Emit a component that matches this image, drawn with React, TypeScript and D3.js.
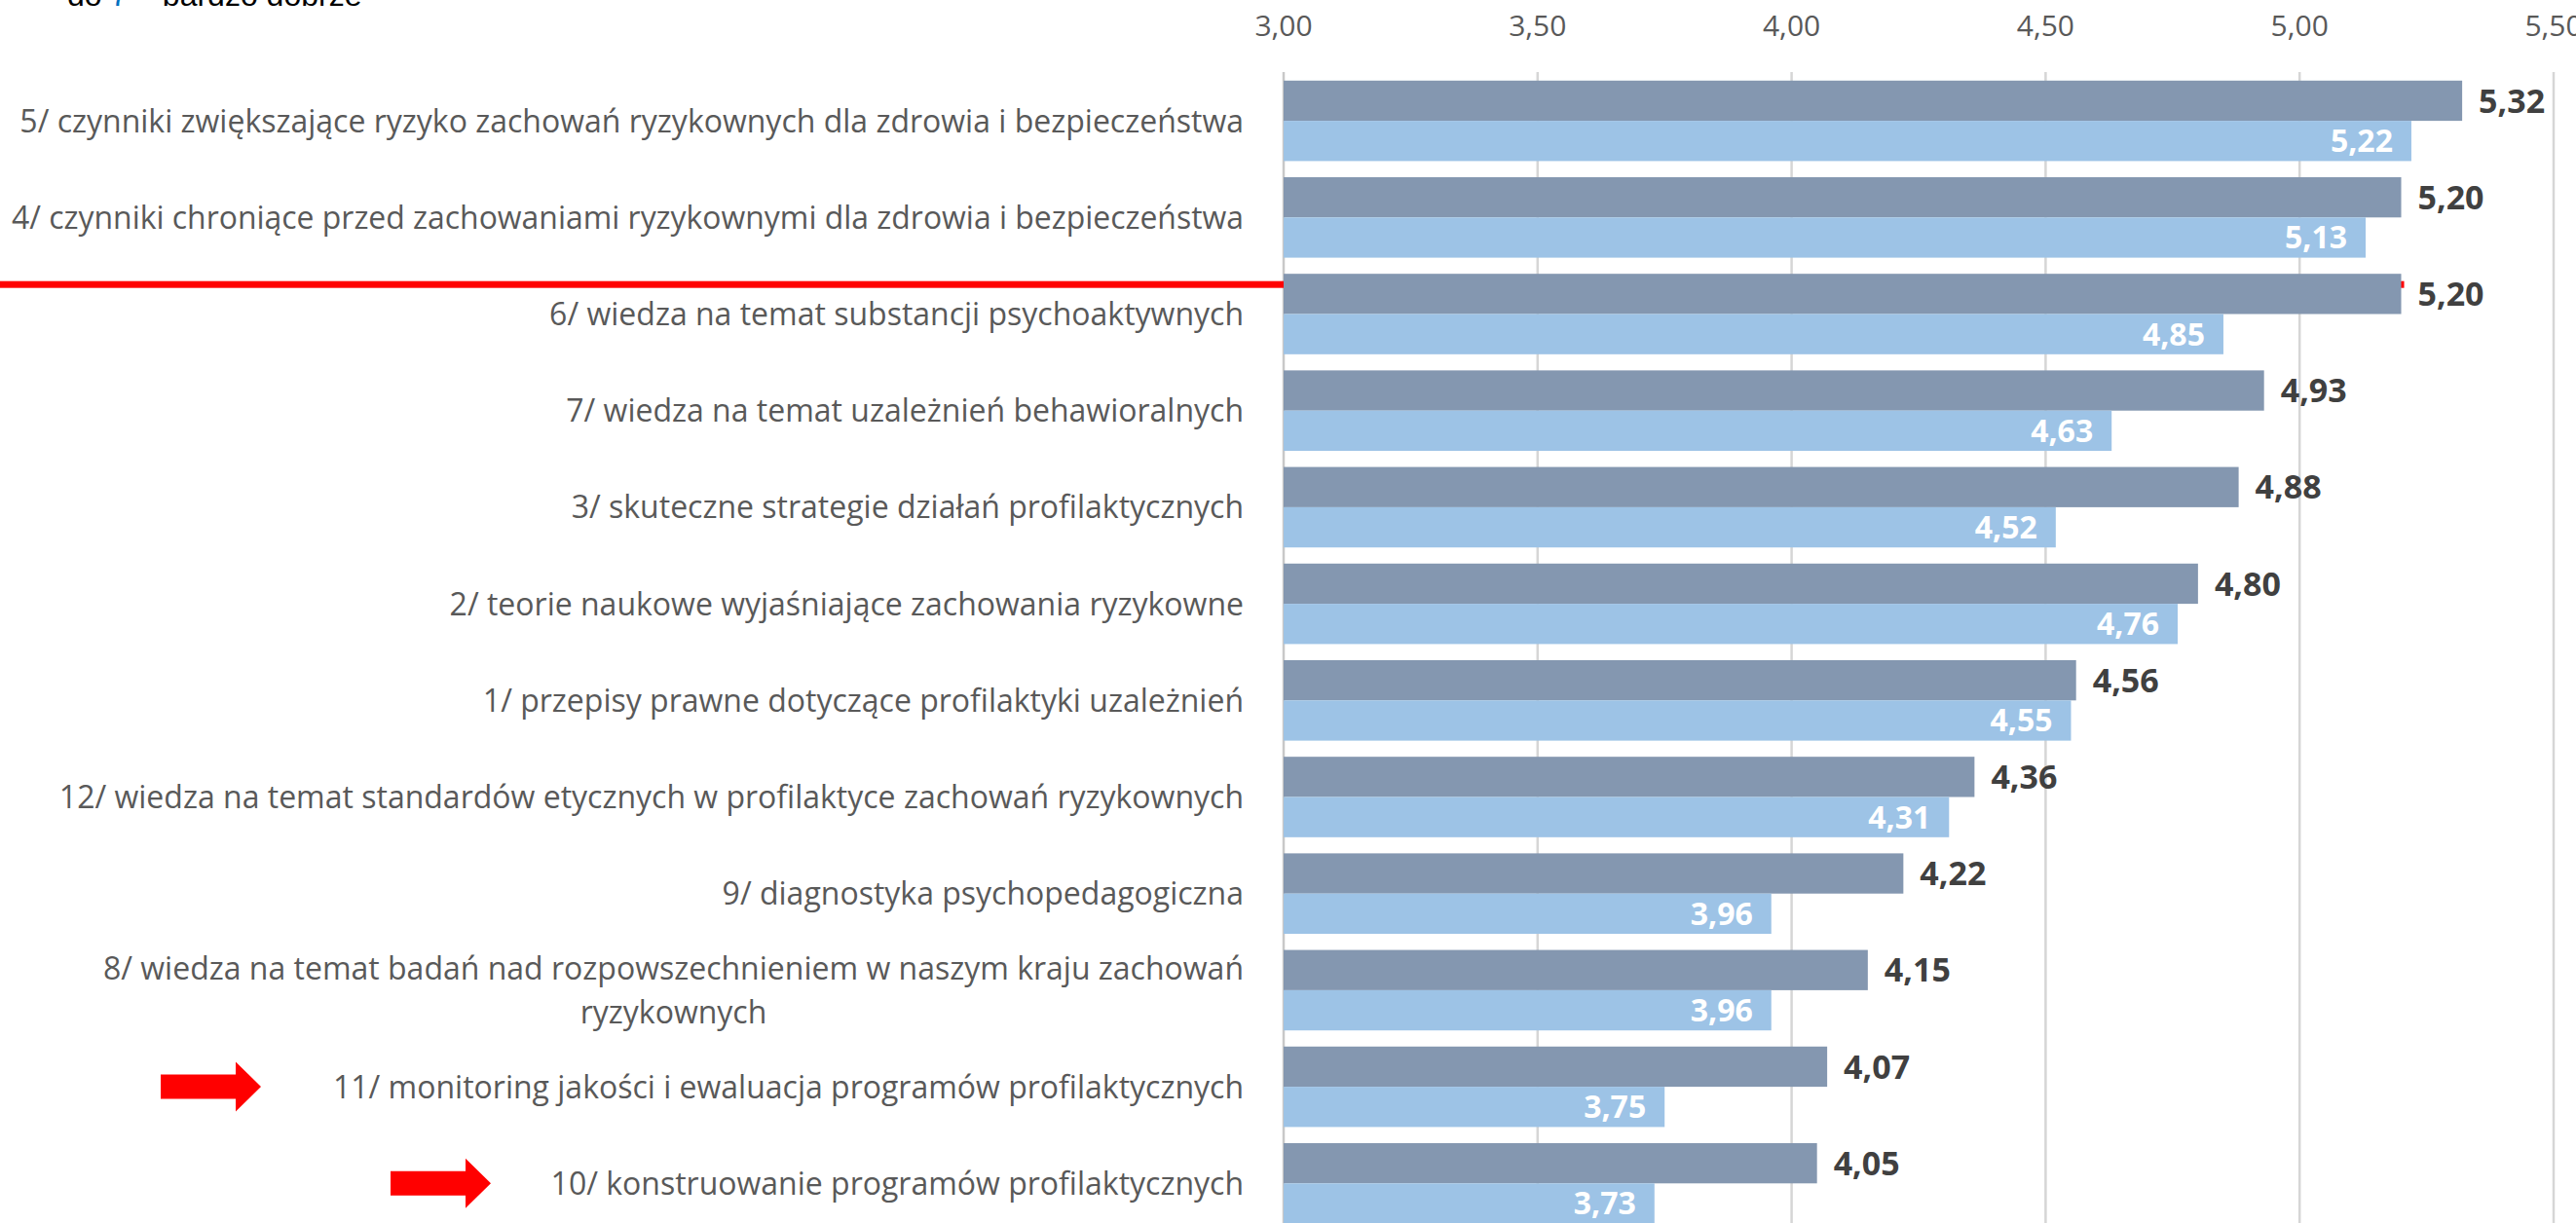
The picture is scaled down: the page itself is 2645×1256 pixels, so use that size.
import React, { useEffect, useRef } from "react";
import * as d3 from "d3";

const categories: string[][] = [
  ["5/ czynniki zwiększające ryzyko zachowań ryzykownych dla zdrowia i bezpieczeństwa"],
  ["4/ czynniki chroniące przed zachowaniami ryzykownymi dla zdrowia i bezpieczeństwa"],
  ["6/ wiedza na temat substancji psychoaktywnych"],
  ["7/ wiedza na temat uzależnień behawioralnych"],
  ["3/ skuteczne strategie działań profilaktycznych"],
  ["2/ teorie naukowe wyjaśniające zachowania ryzykowne"],
  ["1/ przepisy prawne dotyczące profilaktyki uzależnień"],
  ["12/ wiedza na temat standardów etycznych w profilaktyce zachowań ryzykownych"],
  ["9/ diagnostyka psychopedagogiczna"],
  ["8/ wiedza na temat badań nad rozpowszechnieniem w naszym kraju zachowań", "ryzykownych"],
  ["11/ monitoring jakości i ewaluacja programów profilaktycznych"],
  ["10/ konstruowanie programów profilaktycznych"],
];
const seriesA: number[] = [5.32, 5.2, 5.2, 4.93, 4.88, 4.8, 4.56, 4.36, 4.22, 4.15, 4.07, 4.05];
const seriesB: number[] = [5.22, 5.13, 4.85, 4.63, 4.52, 4.76, 4.55, 4.31, 3.96, 3.96, 3.75, 3.73];
const xTicks: number[] = [3.0, 3.5, 4.0, 4.5, 5.0, 5.5];
const arrowCategories: number[] = [10, 11];
const redLineCategory = 2;
const topNote = ["do ", "7", " – bardzo dobrze"];

const W = 2645;
const H = 1256;
const FONT = "'Open Sans', 'DejaVu Sans', sans-serif";
const fmt = (v: number) => d3.format(".2f")(v).replace(".", ",");

export default function App() {
  const ref = useRef<SVGSVGElement>(null);

  useEffect(() => {
    const svg = d3.select(ref.current);
    svg.selectAll("*").remove();

    const x = d3.scaleLinear().domain([3.0, 5.5]).range([1318, 2622]);
    const idx = categories.map((_, i) => String(i));
    const y = d3
      .scaleBand<string>()
      .domain(idx)
      .range([74.5, 74.5 + 12 * 99.2])
      .paddingInner(0.167)
      .paddingOuter(0.0835);
    const bh = y.bandwidth() / 2;

    // top note (cut off at the top edge, as in the source)
    const note = svg
      .append("text")
      .attr("x", 69)
      .attr("y", 6)
      .attr("font-family", "'Liberation Sans', Arial, sans-serif")
      .attr("font-size", 32)
      .attr("fill", "#000");
    topNote.forEach((t, i) =>
      note
        .append("tspan")
        .attr("fill", i === 1 ? "#0070C0" : "#000")
        .style("white-space", "pre")
        .text(t)
    );

    // gridlines
    const gTop = 74;
    svg
      .append("g")
      .selectAll("line")
      .data(xTicks)
      .join("line")
      .attr("x1", (d) => x(d))
      .attr("x2", (d) => x(d))
      .attr("y1", gTop)
      .attr("y2", H)
      .attr("stroke", (d) => (d === 3 ? "#C8C8C8" : "#D6D6D6"))
      .attr("stroke-width", 2.5);

    // tick labels
    svg
      .append("g")
      .selectAll("text")
      .data(xTicks)
      .join("text")
      .attr("x", (d) => x(d))
      .attr("y", 37)
      .attr("text-anchor", "middle")
      .attr("font-family", FONT)
      .attr("font-size", 30)
      .attr("fill", "#595959")
      .text((d) => fmt(d));

    // red line behind bars
    const ry = (y(String(redLineCategory)) as number) + 11;
    svg
      .append("rect")
      .attr("x", 0)
      .attr("y", ry - 3.5)
      .attr("width", x(seriesA[redLineCategory]) + 3)
      .attr("height", 7)
      .attr("fill", "#FF0000");

    // bars
    const bars = svg.append("g");
    bars
      .selectAll("rect.a")
      .data(seriesA)
      .join("rect")
      .attr("class", "a")
      .attr("x", x(3))
      .attr("y", (_, i) => y(String(i)) as number)
      .attr("width", (d) => x(d) - x(3))
      .attr("height", bh)
      .attr("fill", "#8497B0");
    bars
      .selectAll("rect.b")
      .data(seriesB)
      .join("rect")
      .attr("class", "b")
      .attr("x", x(3))
      .attr("y", (_, i) => (y(String(i)) as number) + bh)
      .attr("width", (d) => x(d) - x(3))
      .attr("height", bh)
      .attr("fill", "#9DC3E6");

    // value labels
    svg
      .append("g")
      .selectAll("text")
      .data(seriesA)
      .join("text")
      .attr("x", (d) => x(d) + 17)
      .attr("y", (_, i) => (y(String(i)) as number) + bh / 2)
      .attr("dy", "0.36em")
      .attr("font-family", FONT)
      .attr("font-weight", 700)
      .attr("font-size", 34)
      .attr("fill", "#404040")
      .text((d) => fmt(d));
    svg
      .append("g")
      .selectAll("text")
      .data(seriesB)
      .join("text")
      .attr("x", (d) => x(d) - 19)
      .attr("y", (_, i) => (y(String(i)) as number) + bh * 1.5)
      .attr("dy", "0.36em")
      .attr("text-anchor", "end")
      .attr("font-family", FONT)
      .attr("font-weight", 700)
      .attr("font-size", 32)
      .attr("fill", "#FFFFFF")
      .text((d) => fmt(d));

    // category labels
    const labelRight = 1277;
    const maxWidth = labelRight - 12;
    const lineH = 45;
    const lg = svg.append("g");
    categories.forEach((lines, i) => {
      const cy = (y(String(i)) as number) + y.bandwidth() / 2;
      const t = lg
        .append("text")
        .attr("font-family", FONT)
        .attr("font-size", 32)
        .attr("fill", "#595959");
      if (lines.length === 1) {
        t.attr("x", labelRight).attr("y", cy).attr("dy", "0.36em").attr("text-anchor", "end").text(lines[0]);
        const w = (t.node() as SVGTextElement).getComputedTextLength();
        if (w > maxWidth) {
          t.attr("textLength", maxWidth).attr("lengthAdjust", "spacingAndGlyphs");
        }
      } else {
        const spans = lines.map((l, j) =>
          t
            .append("tspan")
            .attr("y", cy + (j - (lines.length - 1) / 2) * lineH)
            .attr("dy", "0.36em")
            .text(l)
        );
        const widths = spans.map((s) => (s.node() as SVGTextContentElement).getComputedTextLength());
        const maxW = Math.max(...widths);
        const cx = labelRight - maxW / 2;
        t.attr("text-anchor", "middle");
        spans.forEach((s) => s.attr("x", cx));
      }
    });

    // arrows (annotation shapes, tips at fixed page positions)
    const arrowTips = [268, 504];
    arrowCategories.forEach((ci, k) => {
      const cy = (y(String(ci)) as number) + y.bandwidth() / 2;
      const tip = arrowTips[k];
      const len = 103;
      const headL = 26;
      const bodyH = 25;
      const headH = 51;
      const x0 = tip - len;
      const p = d3.path();
      p.moveTo(x0, cy - bodyH / 2);
      p.lineTo(tip - headL, cy - bodyH / 2);
      p.lineTo(tip - headL, cy - headH / 2);
      p.lineTo(tip, cy);
      p.lineTo(tip - headL, cy + headH / 2);
      p.lineTo(tip - headL, cy + bodyH / 2);
      p.lineTo(x0, cy + bodyH / 2);
      p.closePath();
      svg.append("path").attr("d", p.toString()).attr("fill", "#FF0000");
    });
  }, []);

  return (
    <svg
      ref={ref}
      width={W}
      height={H}
      style={{ position: "absolute", left: 0, top: 0, background: "#fff" }}
    />
  );
}
